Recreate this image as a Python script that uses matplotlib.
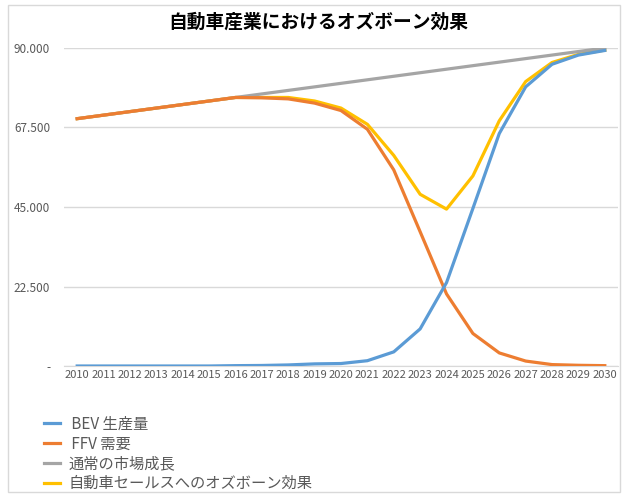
import matplotlib
matplotlib.use("Agg")
import matplotlib.pyplot as plt
from matplotlib.patches import Rectangle

plt.rcParams["font.family"] = ["Noto Sans CJK JP", "DejaVu Sans"]

YEARS = [str(y) for y in range(2010, 2031)]
BEV = [0, 0, 0, 0, 0, 0, 0.1, 0.15, 0.3, 0.6, 0.7, 1.5, 4.0, 10.5, 23.6,
       44.6, 65.8, 79.0, 85.4, 88.0, 89.3]
FFV = [70, 71, 72, 73, 74, 75, 76, 75.9, 75.6, 74.4, 72.3, 67.0, 55.5, 38.0,
       20.4, 9.2, 3.7, 1.4, 0.4, 0.2, 0.1]
MARKET = [70, 71, 72, 73, 74, 75, 76, 77, 78, 79, 80, 81, 82, 83, 84, 85,
          86, 87, 88, 89, 90]
OSBORNE = [70, 71, 72, 73, 74, 75, 76, 76.0, 76.0, 75.0, 73.0, 68.4, 59.6,
           48.6, 44.4, 53.8, 69.4, 80.5, 85.9, 88.2, 89.4]
YTICKS = [0, 22.5, 45, 67.5, 90]
YTICK_LABELS = ["-", "22.500", "45.000", "67.500", "90.000"]

LABELS = [" BEV 生産量", " FFV 需要", "通常の市場成長", "自動車セールスへのオズボーン効果"]
C_BEV = "#5B9BD5"
C_FFV = "#ED7D31"
C_MKT = "#A5A5A5"
C_OSB = "#FFC000"
C_TXT = "#595959"
C_GRID = "#D9D9D9"

fig = plt.figure(figsize=(6.3, 5.0), dpi=100)
fig.patches.append(Rectangle((8 / 630, 1 - 492 / 500), 612 / 630, 487 / 500,
                             transform=fig.transFigure, fill=False,
                             edgecolor=C_GRID, lw=1))
ax = fig.add_axes([64 / 630, 1 - 366 / 500, 554 / 630, 318 / 500])

x = range(len(YEARS))
lw = 2.3
h_osb, = ax.plot(x, OSBORNE, color=C_OSB, lw=lw, zorder=2)
h_mkt, = ax.plot(x, MARKET, color=C_MKT, lw=lw, zorder=3)
h_ffv, = ax.plot(x, FFV, color=C_FFV, lw=lw, zorder=4)
h_bev, = ax.plot(x, BEV, color=C_BEV, lw=lw, zorder=5)

ax.set_xlim(-0.5, len(YEARS) - 0.5)
ax.set_ylim(0, 90)
ax.set_xticks(list(x))
ax.set_xticklabels(YEARS, fontsize=8, color=C_TXT)
ax.set_yticks(YTICKS)
ax.set_yticklabels(YTICK_LABELS, fontsize=8.5, color=C_TXT)
ax.tick_params(length=0, pad=3)
ax.tick_params(axis="y", pad=10)
ax.grid(axis="y", color=C_GRID, lw=1)
ax.set_axisbelow(True)
for s in ("top", "right", "left"):
    ax.spines[s].set_visible(False)
ax.spines["bottom"].set_color(C_GRID)

fig.text(0.505, 1 - 22 / 500, "自動車産業におけるオズボーン効果",
         ha="center", va="center", fontsize=13.5, fontweight="bold")

fig.legend([h_bev, h_ffv, h_mkt, h_osb], LABELS, loc="upper left",
           bbox_to_anchor=(36 / 630, 1 - 408 / 500), frameon=False,
           fontsize=11, labelcolor=C_TXT, handlelength=1.1,
           handletextpad=0.5, labelspacing=0.18, borderpad=0)

fig.savefig("out.png", dpi=100)
